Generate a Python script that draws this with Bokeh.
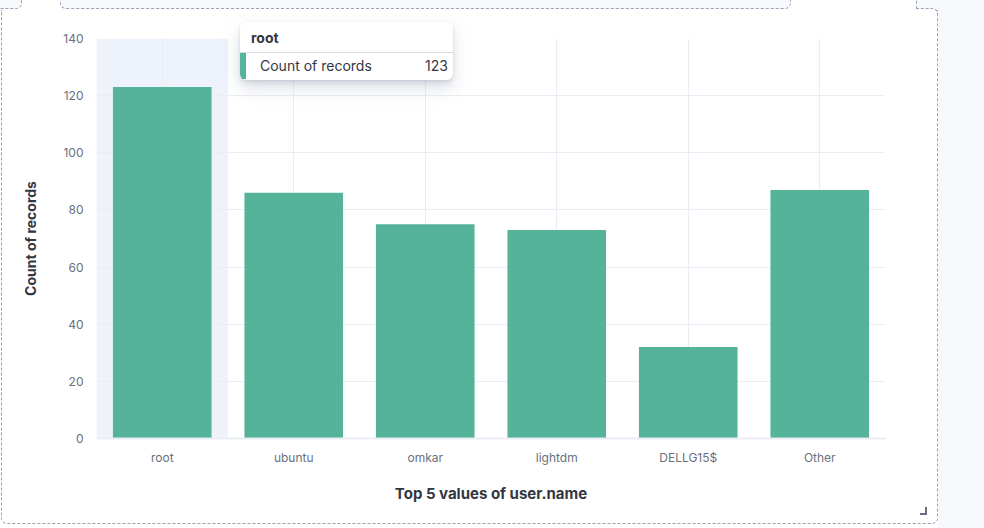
from bokeh.plotting import figure
from bokeh.models import (ColumnDataSource, FactorRange, Range1d, BoxAnnotation,
                          SingleIntervalTicker, Div)
from bokeh.embed import file_html
from bokeh.resources import INLINE

# ---- data ----
users = ["root", "ubuntu", "omkar", "lightdm", "DELLG15$", "Other"]
counts = [123, 86, 75, 73, 32, 87]
y_ticks_interval = 20
y_max = 140
x_title = "Top 5 values of user.name"
y_title = "Count of records"
hovered = "root"

BAR = "#54b399"
GRID = "#eaedf3"
TICK_TXT = "#69707d"
TITLE_TXT = "#343741"
DASH = "#98a2b3"
PAGE_BG = "#f7f8fc"
FONT = "Inter"

src = ColumnDataSource(dict(user=users, count=counts))

p = figure(width=984, height=528, x_range=FactorRange(*users),
           y_range=Range1d(0, y_max), output_backend="svg",
           toolbar_location=None, tools="",
           min_border_left=96, min_border_right=99,
           min_border_top=38, min_border_bottom=90)
p.outline_line_color = None
p.background_fill_color = "white"
p.border_fill_color = "white"

# hover highlight band behind the hovered category
hi = users.index(hovered)
p.add_layout(BoxAnnotation(left=hi, right=hi + 1, fill_color="#eef2fa",
                           fill_alpha=1, line_color=None, level="image"))

p.vbar(x="user", top="count", width=0.75, source=src, color=BAR,
       line_color=None)

# grids
p.ygrid.ticker = SingleIntervalTicker(interval=y_ticks_interval)
p.ygrid.grid_line_color = GRID
p.xgrid.grid_line_color = GRID

# axes
p.yaxis.ticker = SingleIntervalTicker(interval=y_ticks_interval)
p.yaxis.axis_line_color = None
p.yaxis.major_tick_line_color = None
p.yaxis.minor_tick_line_color = None
p.yaxis.major_label_standoff = 7
p.yaxis.axis_label = y_title
p.yaxis.axis_label_standoff = 21

p.xaxis.axis_line_color = GRID
p.xaxis.axis_line_width = 2
p.xaxis.major_tick_line_color = None
p.xaxis.major_label_standoff = 5
p.xaxis.axis_label = x_title
p.xaxis.axis_label_standoff = 16

for ax in (p.xaxis, p.yaxis):
    ax.major_label_text_font = FONT
    ax.major_label_text_font_size = "12px"
    ax.major_label_text_color = TICK_TXT
    ax.axis_label_text_font = FONT
    ax.axis_label_text_font_size = "14px"
    ax.axis_label_text_font_style = "bold"
    ax.axis_label_text_color = TITLE_TXT
p.xaxis.axis_label_text_font_size = "15px"


def box(left, top, width, height, extra=""):
    css = {"position": "absolute", "left": f"{left}px", "top": f"{top}px",
           "width": f"{width}px", "height": f"{height}px",
           "box-sizing": "border-box", "pointer-events": "none"}
    for part in extra.split(";"):
        if ":" in part:
            k, v = part.split(":", 1)
            css[k.strip()] = v.strip()
    return Div(text="", styles=css)


dash = f"1px dashed {DASH}"
decor = [
    box(938, 0, 46, 528, f"background:{PAGE_BG}"),
    box(-12, -10, 34, 19, f"border:{dash};background:{PAGE_BG};border-radius:0 0 6px 0"),
    box(60, -10, 731, 19, f"border:{dash};background:{PAGE_BG};border-radius:0 0 6px 6px"),
    box(916, -10, 60, 19, f"border-left:{dash};background:{PAGE_BG}"),
    box(916, 8, 22, 6, f"border-top:{dash};border-right:{dash};border-radius:0 6px 0 0"),
    box(1, 10, 937, 514, f"border:{dash};border-top:none;border-radius:0 0 6px 6px"),
    box(1, 8, 8, 6, f"border-top:{dash};border-left:{dash};border-radius:6px 0 0 0;border-top-color:transparent"),
    box(920, 507, 7, 8, f"border-right:2px solid {TICK_TXT};border-bottom:2px solid {TICK_TXT}"),
]

tip_html = (
    f'<div style="width:213px;height:58px;box-sizing:border-box;background:#fff;'
    f'border-radius:6px;overflow:hidden;font-family:{FONT},sans-serif;color:{TITLE_TXT};'
    f'box-shadow:0 8px 18px 0 rgba(152,162,179,.30),0 4px 6px -1px rgba(152,162,179,.28),'
    f'0 1px 2px 0 rgba(152,162,179,.25);">'
    f'<div style="height:31px;line-height:32px;padding-left:11px;font-size:14px;'
    f'font-weight:700;border-bottom:1px solid #d3dae6;">{hovered}</div>'
    f'<div style="display:flex;justify-content:space-between;height:26px;line-height:26px;'
    f'font-size:14px;border-left:6px solid {BAR};padding-left:14px;padding-right:5px;">'
    f'<span>{y_title}</span><span>{counts[hi]}</span></div></div>'
)
tooltip = Div(text=tip_html, styles={"position": "absolute", "left": "240px",
                                     "top": "22px", "width": "213px",
                                     "height": "58px", "pointer-events": "none"})

p.elements = decor + [tooltip]

open("out.html", "w").write(file_html(p, INLINE))
